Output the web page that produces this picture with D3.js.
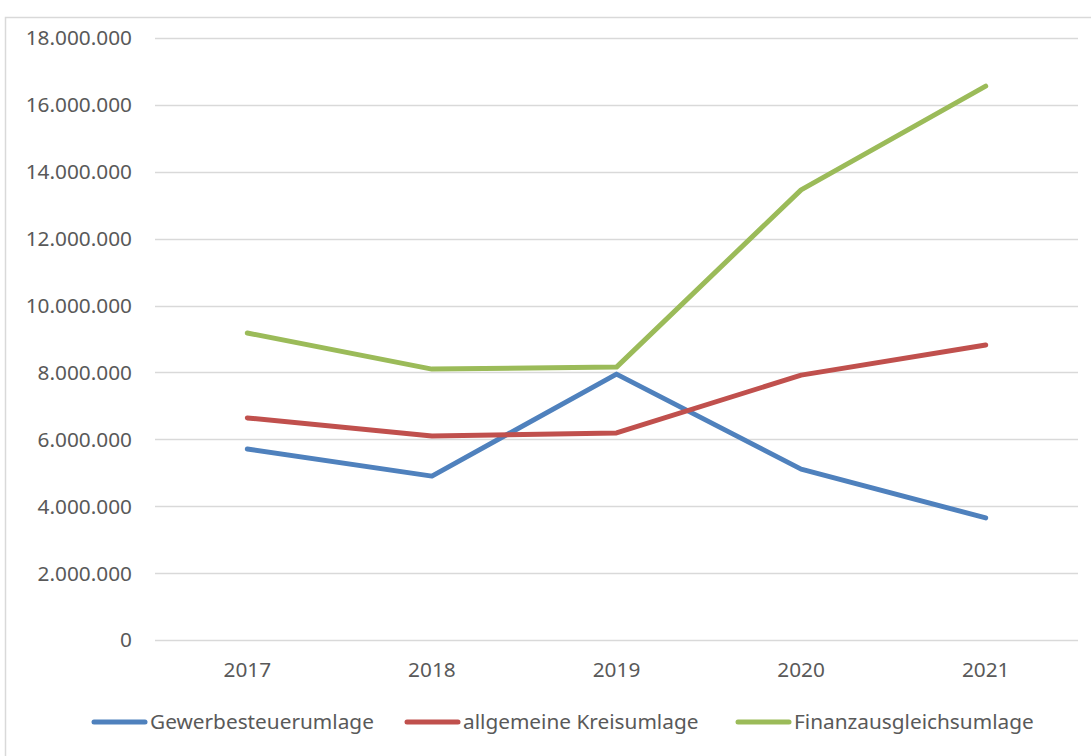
<!DOCTYPE html>
<html><head><meta charset="utf-8">
<script src="https://cdn.jsdelivr.net/npm/d3@7"></script>
<style>body{margin:0;background:#fff}svg{display:block}text{font-family:"Noto Sans",sans-serif;fill:#595959}</style>
</head><body><svg id="c" width="1091" height="756"></svg>
<script>
const years = ["2017","2018","2019","2020","2021"];
const gewerbesteuerumlage = [5710000, 4900000, 7950000, 5110000, 3650000];
const kreisumlage = [6640000, 6100000, 6190000, 7920000, 8820000];
const finanzausgleichsumlage = [9180000, 8100000, 8160000, 13460000, 16560000];
const yTicks = [0,2000000,4000000,6000000,8000000,10000000,12000000,14000000,16000000,18000000];
const seriesNames = ["Gewerbesteuerumlage","allgemeine Kreisumlage","Finanzausgleichsumlage"];
const colors = ["#4F81BD","#C0504D","#9BBB59"];

const series = [gewerbesteuerumlage, kreisumlage, finanzausgleichsumlage];
const svg = d3.select("#c");
svg.append("rect").attr("x",5.5).attr("y",17.5).attr("width",1100).attr("height",760)
  .attr("fill","none").attr("stroke","#D9D9D9").attr("stroke-width",1.5);

const x = d3.scaleBand().domain(years).range([155,1078]);
const y = d3.scaleLinear().domain([0,18000000]).range([640,38]);
const fmt = v => d3.format(",")(v).replace(/,/g,".");

const g = svg.append("g");
g.selectAll("line.grid").data(yTicks).join("line")
  .attr("x1",155).attr("x2",1078).attr("y1",d=>Math.round(y(d))+0.5).attr("y2",d=>Math.round(y(d))+0.5)
  .attr("stroke","#D9D9D9").attr("stroke-width",1.5);
g.selectAll("text.yl").data(yTicks).join("text")
  .attr("x",132).attr("y",d=>y(d)).attr("dy","0.36em").attr("text-anchor","end")
  .attr("font-size",20.8).text(fmt);
g.selectAll("text.xl").data(years).join("text")
  .attr("x",d=>x(d)+x.bandwidth()/2).attr("y",670).attr("dy","0.36em").attr("text-anchor","middle")
  .attr("font-size",20.8).text(d=>d);

const line = d3.line().x((d,i)=>x(years[i])+x.bandwidth()/2).y(d=>y(d));
series.forEach((s,i)=>{
  svg.append("path").datum(s).attr("d",line).attr("fill","none")
    .attr("stroke",colors[i]).attr("stroke-width",5).attr("stroke-linecap","round").attr("stroke-linejoin","round");
});

// legend
const lg = svg.append("g");
const starts = [92,405,736];
seriesNames.forEach((n,i)=>{
  lg.append("line").attr("x1",starts[i]+2).attr("x2",starts[i]+53).attr("y1",722).attr("y2",722)
    .attr("stroke",colors[i]).attr("stroke-width",5).attr("stroke-linecap","round");
  lg.append("text").attr("x",starts[i]+58).attr("y",722).attr("dy","0.36em").attr("font-size",20.8).text(n);
});
</script></body></html>
